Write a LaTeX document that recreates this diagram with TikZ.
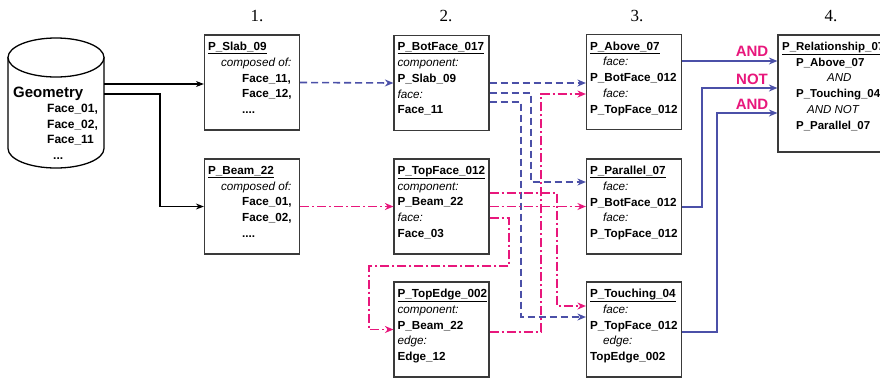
\documentclass[tikz,border=0pt]{standalone}
\usepackage{fontspec}
\setmainfont{Liberation Sans}
\newfontfamily\numfont{Liberation Serif}
\usetikzlibrary{arrows.meta,calc}
\definecolor{pblue}{HTML}{4B50A8}
\definecolor{ppink}{HTML}{E8177C}
\definecolor{boxline}{HTML}{3A3A3A}
\newcommand{\lab}[1]{{\mdseries\itshape #1}}
\begin{document}
\begin{tikzpicture}[x=1pt,y=-1pt,
  box/.style={draw=boxline,line width=1.2pt,fill=white,minimum width=95pt,minimum height=95pt,inner sep=0pt},
  txt/.style={anchor=north west,inner sep=0pt,align=left,font=\fontsize{11.7}{15.75}\selectfont\bfseries},
  gtxt/.style={anchor=base west,inner sep=0pt,font=\fontsize{12}{14}\selectfont\bfseries},
  numf/.style={inner sep=0pt,font=\numfont\fontsize{17}{17}\selectfont},
  oplbl/.style={inner sep=0pt,text=ppink,font=\fontsize{15}{15}\selectfont\bfseries},
  bl/.style={pblue,line width=1.6pt,dash pattern=on 7pt off 4pt,-{Stealth[length=8.5pt,width=7pt]}},
  pk/.style={ppink,line width=1.6pt,dash pattern=on 9pt off 3pt on 2pt off 3pt,-{Stealth[length=8.5pt,width=7pt]}},
  bs/.style={pblue,line width=1.6pt,-{Stealth[length=8.5pt,width=7pt]}},
  ks/.style={black,line width=1.1pt,-{Stealth[length=8pt,width=6pt]}},
  cyl/.style={draw=black,line width=1.3pt,fill=white}]
\clip (0,0) rectangle (880,378);
\fill[white] (0,0) rectangle (880,378);

% headings
\node[numf] (h1) at (257,16) {1.};
\node[numf] (h2) at (446,16) {2.};
\node[numf] (h3) at (637,16) {3.};
\node[numf] (h4) at (831,16) {4.};

% cylinder
\path[cyl] (8,57.5) -- (8,148.5) arc[start angle=180,end angle=360,x radius=48pt,y radius=19.5pt] -- (104,57.5) -- cycle;
\draw[cyl] (56,57.5) ellipse[x radius=48pt,y radius=19.5pt];
\node[gtxt,font=\fontsize{15}{15}\selectfont\bfseries] (g0) at (13,97.5) {Geometry};
\node[gtxt] (g1) at (47,112.5) {Face\_01,};
\node[gtxt] (g2) at (47,128.5) {Face\_02,};
\node[gtxt] (g3) at (47,143.5) {Face\_11};
\node[gtxt] (g4) at (53,159) {...};
\coordinate (geoA) at (104,84);
\coordinate (geoB) at (104,94);
\coordinate (x1) at (160,0);

% boxes
\node[box] (slab) at (252,82.5) {};
\node[box] (beam) at (252,206.5) {};
\node[box] (botf) at (441.5,83) {};
\node[box] (topf) at (441.5,206.5) {};
\node[box] (tope) at (441.5,329.5) {};
\node[box] (above) at (634,82) {};
\node[box] (par) at (634,206.5) {};
\node[box] (touch) at (634,329.5) {};
\node[box,minimum width=130pt,minimum height=117pt] (rel) at (843,93.5) {};

% box texts
\node[txt] (slabt) at ([shift={(4,7.5)}]slab.north west) {\underline{P\_Slab\_09}\\\hspace*{13pt}\lab{composed of:}\\\hspace*{34pt}Face\_11,\\\hspace*{34pt}Face\_12,\\\hspace*{34pt}....};
\node[txt] (beamt) at ([shift={(4,7.5)}]beam.north west) {\underline{P\_Beam\_22}\\\hspace*{13pt}\lab{composed of:}\\\hspace*{34pt}Face\_01,\\\hspace*{34pt}Face\_02,\\\hspace*{34pt}....};
\node[txt] (botft) at ([shift={(4,7.5)}]botf.north west) {\underline{P\_BotFace\_017}\\\lab{component:}\\P\_Slab\_09\\\lab{face:}\\Face\_11};
\node[txt] (topft) at ([shift={(4,7.5)}]topf.north west) {\underline{P\_TopFace\_012}\\\lab{component:}\\P\_Beam\_22\\\lab{face:}\\Face\_03};
\node[txt] (topet) at ([shift={(4,7.5)}]tope.north west) {\underline{P\_TopEdge\_002}\\\lab{component:}\\P\_Beam\_22\\\lab{edge:}\\Edge\_12};
\node[txt] (abovet) at ([shift={(4,7.5)}]above.north west) {\underline{P\_Above\_07}\\\hspace*{13pt}\lab{face:}\\P\_BotFace\_012\\\hspace*{13pt}\lab{face:}\\P\_TopFace\_012};
\node[txt] (part) at ([shift={(4,7.5)}]par.north west) {\underline{P\_Parallel\_07}\\\hspace*{13pt}\lab{face:}\\P\_BotFace\_012\\\hspace*{13pt}\lab{face:}\\P\_TopFace\_012};
\node[txt] (toucht) at ([shift={(4,7.5)}]touch.north west) {\underline{P\_Touching\_04}\\\hspace*{13pt}\lab{face:}\\P\_TopFace\_012\\\hspace*{13pt}\lab{edge:}\\TopEdge\_002};
\node[txt,font=\fontsize{11.5}{15.75}\selectfont\bfseries] (relt) at ([shift={(4.5,7.5)}]rel.north west) {\underline{P\_Relationship\_07}\\\hspace*{14pt}P\_Above\_07\\\hspace*{45pt}\lab{AND}\\\hspace*{14pt}P\_Touching\_04\\\hspace*{25pt}\lab{AND NOT}\\\hspace*{14pt}P\_Parallel\_07};

% black connectors
\draw[ks] (geoA) -- (geoA -| slab.west);
\draw[ks] (geoB) -| (x1 |- beam.west) -- (beam.west);

% routing corners
\coordinate (r1) at (531,182);
\coordinate (r2) at (521,317);
\coordinate (r3) at (557,306);
\coordinate (r4) at (509,266);
\coordinate (r5) at (369,266);
\coordinate (r6) at (541,94);
\coordinate (r7) at (702,88);
\coordinate (r8) at (717,113);

% blue dashed
\draw[bl] (slab.east) -- (botf.west);
\draw[bl] (botf.east) -- (botf.east -| above.west);
\draw[bl] ($(botf.east)+(0,10)$) -| (r1) -- (r1 -| par.west);
\draw[bl] ($(botf.east)+(0,19)$) -| (r2) -- (r2 -| touch.west);

% pink dash-dot
\draw[pk] (beam.east) -- (topf.west);
\draw[pk] ($(topf.east)+(0,-13.5)$) -| (r3) -- (r3 -| touch.west);
\draw[pk] (topf.east) -- (par.west);
\draw[pk] ($(topf.east)+(0,11.5)$) -| (r4) -- (r5) |- (tope.west);
\draw[pk] ($(tope.east)+(0,2.5)$) -| (r6) -- (r6 -| above.west);

% blue solid
\draw[bs] ($(above.east)+(0,-21)$) coordinate (s1) -- (s1 -| rel.west);
\draw[bs] ($(par.east)+(0,0.5)$) -| (r7) -- (r7 -| rel.west);
\draw[bs] ($(touch.east)+(0,2.5)$) -| (r8) -- (r8 -| rel.west);

\node[oplbl] (op1) at (752,51) {AND};
\node[oplbl] (op2) at (752,79) {NOT};
\node[oplbl] (op3) at (752,104) {AND};
\end{tikzpicture}
\end{document}
